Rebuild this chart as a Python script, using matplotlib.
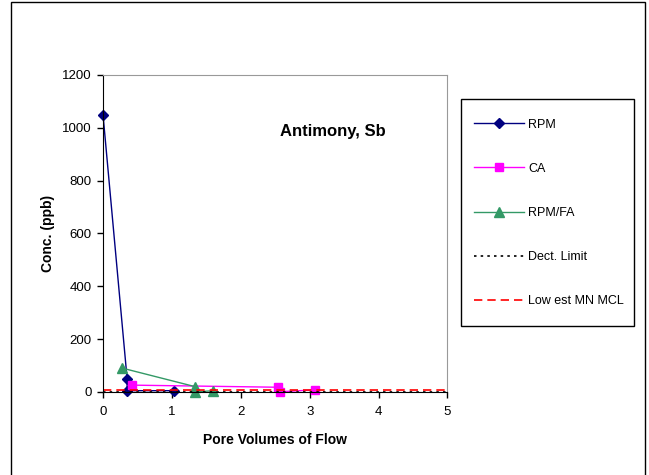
import matplotlib.pyplot as plt
from matplotlib.patches import Rectangle

plt.rcParams['font.family'] = ['Liberation Sans', 'DejaVu Sans']

# data
rpm_x = [0, 0.35, 0.35, 1.03]
rpm_y = [1050, 50, 5, 5]
ca_x = [0.42, 2.54, 2.57, 3.07]
ca_y = [26, 18, 1, 8]
fa_x = [0.27, 1.34, 1.34, 1.6]
fa_y = [91, 20, 0, 5]
dect_x = [0, 5]
dect_y = [1, 1]
mcl_x = [0, 5]
mcl_y = [6, 6]

xticks = [0, 1, 2, 3, 4, 5]
yticks = [0, 200, 400, 600, 800, 1000, 1200]

W, H = 649, 475
fig = plt.figure(figsize=(W / 100, H / 100), dpi=100)
ax = fig.add_axes([103 / W, 1 - 392 / H, (447.5 - 103) / W, (392 - 75) / H])

ax.plot(rpm_x, rpm_y, color='#000080', marker='D', markersize=5, lw=1, label='RPM', clip_on=False)
ax.plot(ca_x, ca_y, color='#FF00FF', marker='s', markersize=6, lw=1, label='CA', clip_on=False)
ax.plot(fa_x, fa_y, color='#339966', marker='^', markersize=7, lw=1, label='RPM/FA', clip_on=False)
ax.plot(dect_x, dect_y, color='black', ls=(0, (1.5, 2.5)), lw=1.2, label='Dect. Limit')
ax.plot(mcl_x, mcl_y, color='#FF0000', ls=(0, (5, 3)), lw=1.2, label='Low est MN MCL')

ax.set_xlim(0, 5)
ax.set_ylim(0, 1200)
ax.set_xticks(xticks)
ax.set_yticks(yticks)
ax.tick_params(direction='out', length=4, labelsize=9.5, width=1)
ax.tick_params(axis='x', pad=6)
ax.tick_params(axis='y', pad=4)

for s in ['top', 'right']:
    ax.spines[s].set_color('#999999')
ax.spines['left'].set_color('black')
ax.spines['bottom'].set_color('black')

ax.set_xlabel('Pore Volumes of Flow', fontsize=10, fontweight='bold', labelpad=11)
ax.set_ylabel('Conc. (ppb)', fontsize=10, fontweight='bold', labelpad=5)
ax.text((333 - 103) / 344.5, (392 - 131.5) / 317, 'Antimony, Sb', transform=ax.transAxes,
        ha='center', va='center', fontsize=12, fontweight='bold')

leg = fig.legend(loc='upper left', bbox_to_anchor=(474 / W, 1 - 118.5 / H),
                 fontsize=9, labelspacing=2.58, handlelength=4.0, handletextpad=0.32,
                 borderpad=0, borderaxespad=0, frameon=False)

# legend box
fig.patches.append(Rectangle((461 / W, 1 - 326 / H), (634 - 461) / W, (326 - 99) / H,
                             transform=fig.transFigure, fill=False,
                             edgecolor='black', lw=1))

# outer chart border
fig.patches.append(Rectangle((11 / W, -0.01), (645 - 11) / W, 1.0058,
                             transform=fig.transFigure, fill=False,
                             edgecolor='black', lw=1))

fig.savefig('out.png', dpi=100)
